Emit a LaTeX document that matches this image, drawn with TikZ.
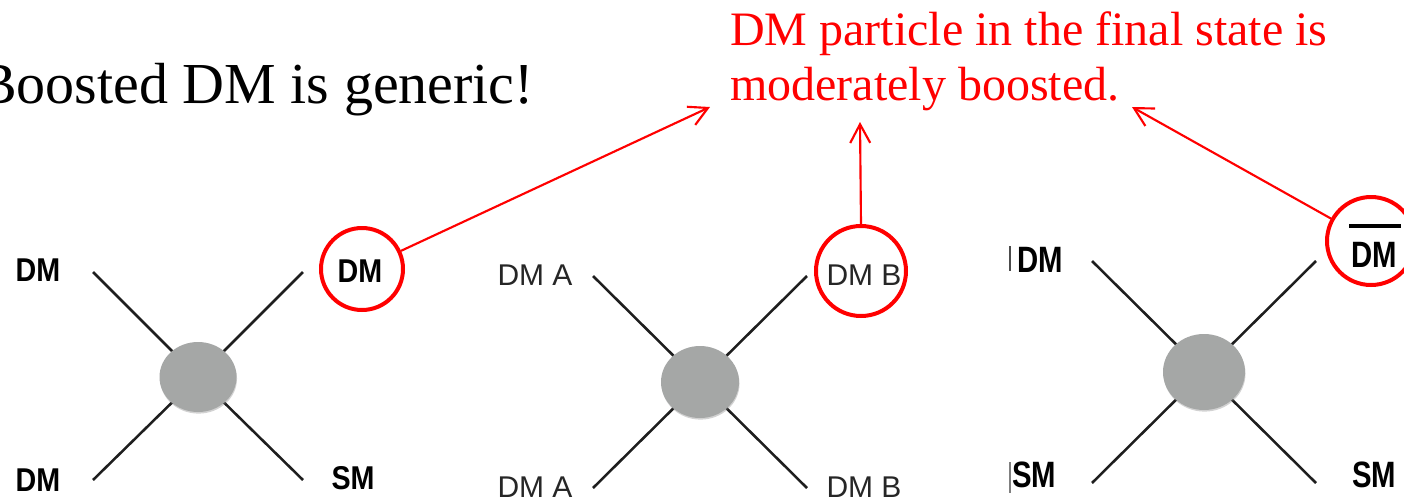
\documentclass[tikz,border=0pt]{standalone}
\usepackage{fontspec}
\usepackage{graphicx}
\setmainfont{Liberation Serif}
\newfontfamily\arialf{Liberation Sans}
\usetikzlibrary{arrows.meta,shapes.geometric,shadows}
\definecolor{blobgray}{HTML}{A5A7A6}
\definecolor{linegray}{HTML}{1E1E1E}
\newcommand{\vstretch}[2]{\scalebox{1}[#1]{#2}}
\begin{document}
\begin{tikzpicture}[x=0.75pt,y=-0.75pt,
  leg/.style={draw=linegray,line width=1.9pt},
  blob/.style={ellipse,fill=blobgray,inner sep=0pt,drop shadow={opacity=0.35,shadow xshift=0.4pt,shadow yshift=-1.2pt}},
  lblb/.style={font=\arialf\bfseries\fontsize{21.5}{21.5}\selectfont,inner sep=0pt,anchor=base},
  lblr/.style={font=\arialf\fontsize{22.5}{22.5}\selectfont,inner sep=0pt,anchor=base,text=black!85},
  ring/.style={circle,draw=red,line width=3pt,inner sep=0pt},
  callout/.style={draw=red,line width=1.6pt,-{Straight Barb[length=14pt,width=15pt,line width=1.6pt]}},
  redtxt/.style={text=red,font=\fontsize{36}{36}\selectfont,inner sep=0pt,anchor=base west}
]
\useasboundingbox (0,0) rectangle (1404,501);
\fill[white] (0,0) rectangle (1404,501);
\clip (0,0) rectangle (1404,501);

% title and callout text
\node[font=\fontsize{43.5}{43.5}\selectfont,inner sep=0pt,anchor=base west] (title) at (-22,103) {Boosted DM is generic!};
\node[redtxt] (rt1) at (730,45) {DM particle in the final state is};
\node[redtxt] (rt2) at (730,100) {moderately boosted.};

% ---------- diagram 1 ----------
\coordinate (a1) at (93,272);
\coordinate (a2) at (303,272);
\coordinate (a3) at (93,480);
\coordinate (a4) at (303,480);
\coordinate (ac) at (198,377);
\draw[leg] (a1) -- (ac);
\draw[leg] (a2) -- (ac);
\draw[leg] (a3) -- (ac);
\draw[leg] (a4) -- (ac);
\node[blob,minimum width=57.75pt,minimum height=52.5pt] (blobA) at (ac) {};
\node[lblb] (dmA1) at (38,281) {\vstretch{1.15}{DM}};
\node[lblb] (dmA2) at (38,491) {\vstretch{1.15}{DM}};
\node[lblb] (dmA3) at (360,282) {\vstretch{1.15}{DM}};
\node[lblb] (smA) at (353,489) {\vstretch{1.15}{SM}};
\node[ring,minimum size=61.5pt] (ringA) at (362,269) {};

% ---------- diagram 2 ----------
\coordinate (b1) at (593,276);
\coordinate (b2) at (807,276);
\coordinate (b3) at (593,488);
\coordinate (b4) at (807,488);
\coordinate (bc) at (700,382);
\draw[leg] (b1) -- (bc);
\draw[leg] (b2) -- (bc);
\draw[leg] (b3) -- (bc);
\draw[leg] (b4) -- (bc);
\node[blob,minimum width=58.5pt,minimum height=54pt] (blobB) at (bc) {};
\node[lblr] (dmB1) at (535,285) {DM A};
\node[lblr] (dmB2) at (535,497) {DM A};
\node[lblr] (dmB3) at (864,285) {DM B};
\node[lblr] (dmB4) at (864,497) {DM B};
\node[ring,minimum size=67.5pt] (ringB) at (861,271) {};

% ---------- diagram 3 ----------
\coordinate (c1) at (1092,261);
\coordinate (c2) at (1316,261);
\coordinate (c3) at (1092,483);
\coordinate (c4) at (1316,483);
\coordinate (cc) at (1204,372);
\draw[leg] (c1) -- (cc);
\draw[leg] (c2) -- (cc);
\draw[leg] (c3) -- (cc);
\draw[leg] (c4) -- (cc);
\node[blob,minimum width=61.5pt,minimum height=57pt] (blobC) at (cc) {};
\node[lblb,font=\arialf\bfseries\fontsize{22}{22}\selectfont] (dmC1) at (1040,272) {\vstretch{1.25}{DM}};
\node[lblb,font=\arialf\bfseries\fontsize{22}{22}\selectfont] (smC1) at (1034,487) {\vstretch{1.25}{SM}};
\node[lblb,font=\arialf\bfseries\fontsize{22}{22}\selectfont] (dmC2) at (1374,267) {\vstretch{1.25}{DM}};
\node[lblb,font=\arialf\bfseries\fontsize{22}{22}\selectfont] (smC2) at (1374,487) {\vstretch{1.25}{SM}};
\draw[line width=3pt] (1349,226) -- (1401,226);
\draw[black!70,line width=1.2pt] (1010,246) -- (1010,271);
\draw[black!50,line width=0.8pt] (1010,462) -- (1010,493);
\node[ring,minimum size=66pt] (ringC) at (1371,241) {};

% ---------- callout arrows ----------
\coordinate (tip1) at (710,107);
\coordinate (tip2) at (860,122);
\coordinate (tip3) at (1132,107);
\draw[callout] (ringA) -- (tip1);
\draw[callout] (ringB.north) -- (tip2);
\draw[callout] (ringC) -- (tip3);
\end{tikzpicture}
\end{document}
